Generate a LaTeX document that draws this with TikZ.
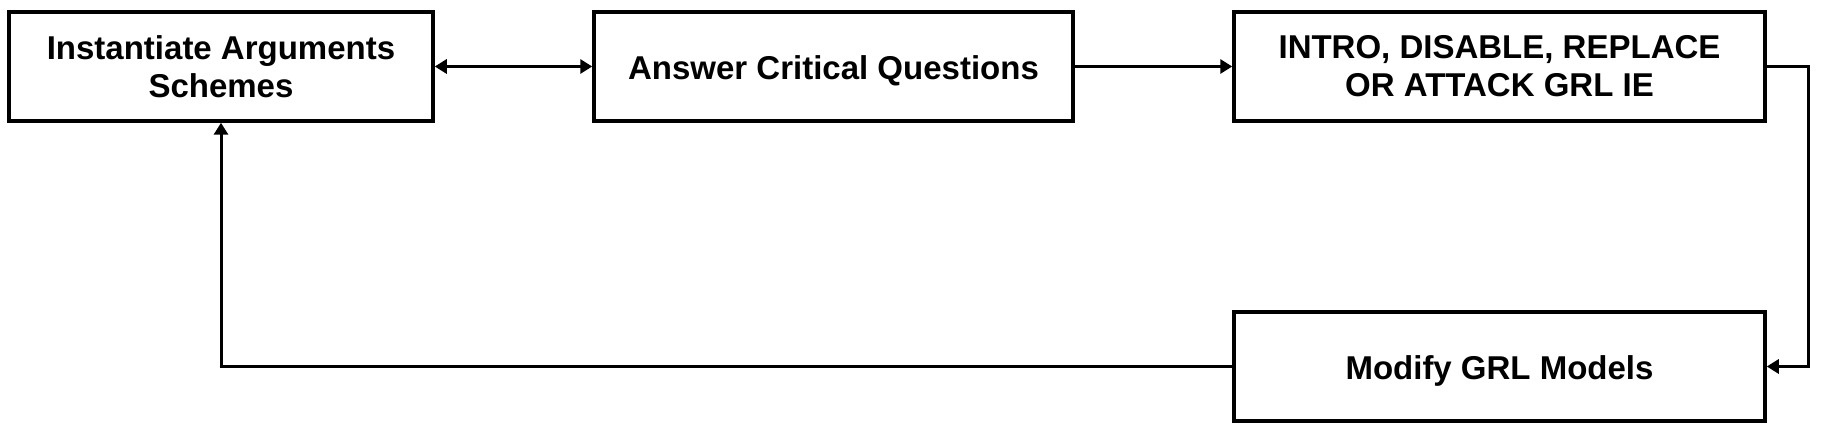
\documentclass[tikz,border=0pt]{standalone}
\usepackage{fontspec}
\setmainfont{Liberation Sans}
\usetikzlibrary{arrows.meta}
\newcommand{\lowertext}[1]{\raisebox{-4.5pt}[\height][\depth]{#1}}
\begin{document}
\begin{tikzpicture}[x=1pt,y=1pt,
  box/.style={draw=black, line width=3.5pt, fill=white, inner sep=0pt, minimum height=109pt, align=center,
    font=\fontsize{33}{38}\selectfont\bfseries},
  arr/.style={line width=3pt, -{Triangle[length=12pt,width=14pt]}},
  darr/.style={line width=3pt, {Triangle[length=12pt,width=14pt]}-{Triangle[length=12pt,width=14pt]}}]
\useasboundingbox (0,0) rectangle (1824,436);
\fill[white] (0,0) rectangle (1824,436);
\node[box, minimum width=424pt] (b1) at (221,369.5) {Instantiate Arguments\\Schemes};
\node[box, minimum width=479pt] (b2) at (833.5,369.5) {\lowertext{Answer Critical Questions}};
\node[box, minimum width=531pt] (b3) at (1499.5,369.5) {INTRO, DISABLE, REPLACE\\OR ATTACK GRL IE};
\node[box, minimum width=531pt] (b4) at (1499.5,69.5) {\lowertext{Modify GRL Models}};
\coordinate (rc) at (1808,0);
\draw[darr] (b1.east) -- (b2.west);
\draw[arr] (b2.east) -- (b3.west);
\draw[arr] (b3.east) -- (b3.east -| rc) |- (b4.east);
\draw[arr] (b4.west) -| (b1.south);
\end{tikzpicture}
\end{document}
